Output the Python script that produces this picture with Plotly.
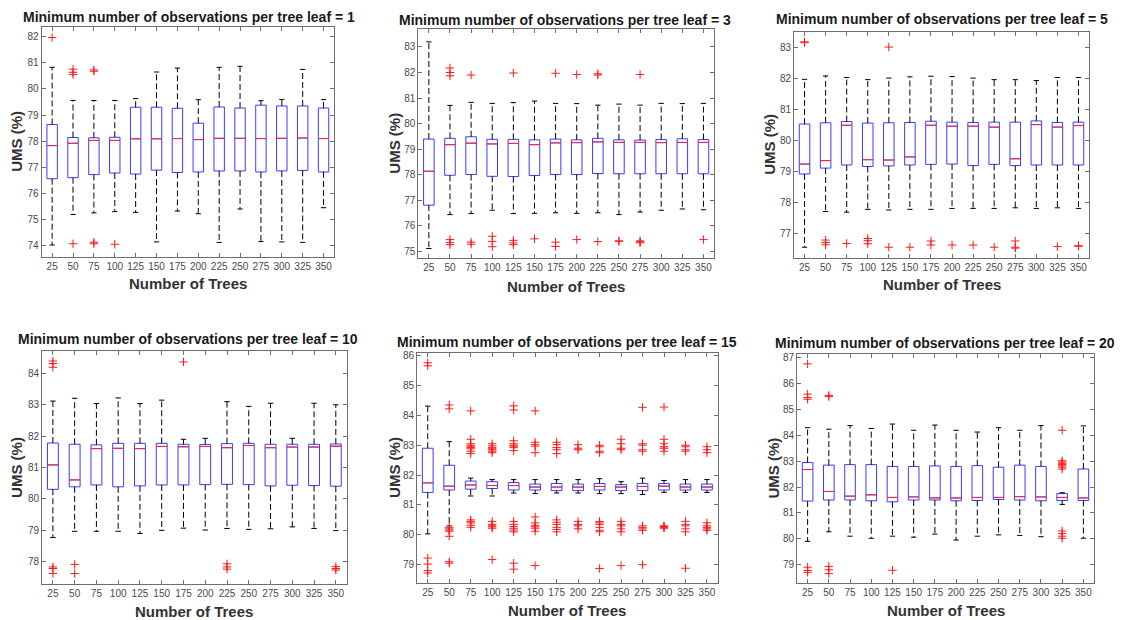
import plotly.graph_objects as go

TREES = [25, 50, 75, 100, 125, 150, 175, 200, 225, 250, 275, 300, 325, 350]
LEAF_SIZES = [1, 3, 5, 10, 15, 20]

# ---- leaf = 1 ----
L1_LO = [74.02, 75.19, 75.25, 75.30, 75.27, 74.14, 75.32, 75.22, 74.12, 75.40, 74.15, 74.14, 74.12, 75.45]
L1_Q1 = [76.56, 76.60, 76.72, 76.78, 76.74, 76.89, 76.80, 76.82, 76.86, 76.86, 76.82, 76.86, 76.88, 76.82]
L1_MED = [77.83, 77.92, 78.03, 78.03, 78.09, 78.09, 78.10, 78.06, 78.11, 78.11, 78.10, 78.11, 78.12, 78.10]
L1_Q3 = [78.64, 78.14, 78.13, 78.15, 79.30, 79.30, 79.26, 78.69, 79.31, 79.27, 79.38, 79.35, 79.35, 79.27]
L1_HI = [80.83, 79.56, 79.56, 79.56, 79.63, 80.65, 80.80, 79.59, 80.83, 80.87, 79.55, 79.60, 80.75, 79.59]
L1_OUT = [[81.97], [80.76, 80.64, 80.55, 74.07], [80.73, 80.68, 74.13, 74.07], [74.05],
          [], [], [], [], [], [], [], [], [], []]

# ---- leaf = 3 ----
L3_LO = [75.10, 76.43, 76.47, 76.60, 76.47, 76.48, 76.50, 76.48, 76.50, 76.43, 76.53, 76.60, 76.65, 76.62]
L3_Q1 = [76.80, 77.97, 78.00, 77.93, 77.92, 77.96, 78.00, 78.00, 78.04, 78.03, 78.03, 78.03, 78.03, 78.03]
L3_MED = [78.13, 79.17, 79.23, 79.20, 79.22, 79.17, 79.24, 79.25, 79.28, 79.26, 79.26, 79.25, 79.26, 79.26]
L3_Q3 = [79.39, 79.42, 79.48, 79.38, 79.38, 79.36, 79.39, 79.36, 79.42, 79.36, 79.35, 79.37, 79.40, 79.37]
L3_HI = [83.20, 80.71, 80.83, 80.79, 80.82, 80.88, 80.79, 80.78, 80.72, 80.76, 80.72, 80.79, 80.78, 80.79]
L3_OUT = [[], [82.18, 82.00, 81.87, 75.45, 75.33, 75.25], [81.90, 75.35, 75.27], [75.58, 75.38, 75.17],
          [81.98, 75.42, 75.32, 75.25], [75.48], [81.97, 75.35, 75.18], [81.92, 75.45],
          [81.95, 81.90, 75.37], [75.40, 75.38], [81.92, 75.40, 75.36, 75.33], [], [], [75.45]]

# ---- leaf = 5 ----
L5_LO = [76.55, 77.70, 77.68, 77.77, 77.75, 77.77, 77.77, 77.80, 77.80, 77.80, 77.82, 77.80, 77.82, 77.80]
L5_Q1 = [78.91, 79.10, 79.20, 79.15, 79.17, 79.20, 79.22, 79.23, 79.18, 79.22, 79.18, 79.20, 79.20, 79.20]
L5_MED = [79.23, 79.34, 80.48, 79.37, 79.36, 79.46, 80.48, 80.45, 80.45, 80.42, 79.40, 80.50, 80.42, 80.47]
L5_Q3 = [80.52, 80.56, 80.60, 80.55, 80.56, 80.57, 80.61, 80.58, 80.57, 80.58, 80.58, 80.62, 80.57, 80.58]
L5_HI = [81.96, 82.07, 82.02, 81.95, 82.00, 82.04, 82.06, 82.05, 82.00, 81.95, 81.95, 81.92, 82.02, 82.02]
L5_OUT = [[83.17, 83.14], [76.78, 76.70, 76.63], [76.67], [76.83, 76.76, 76.66], [83.00, 76.55],
          [76.55], [76.75, 76.62], [76.62], [76.62], [76.55], [76.75, 76.55, 76.52], [], [76.57],
          [76.58, 76.60]]

# ---- leaf = 10 ----
L10_LO = [78.76, 78.96, 78.96, 78.96, 78.89, 78.99, 79.06, 79.00, 79.05, 79.02, 79.04, 79.10, 79.05, 78.98]
L10_Q1 = [80.30, 80.38, 80.44, 80.38, 80.41, 80.44, 80.44, 80.45, 80.46, 80.45, 80.41, 80.43, 80.42, 80.40]
L10_MED = [81.08, 80.60, 81.60, 81.61, 81.60, 81.67, 81.66, 81.67, 81.63, 81.70, 81.63, 81.65, 81.65, 81.68]
L10_Q3 = [81.78, 81.74, 81.72, 81.77, 81.77, 81.77, 81.74, 81.73, 81.76, 81.77, 81.74, 81.74, 81.74, 81.75]
L10_HI = [83.12, 83.21, 83.04, 83.22, 83.04, 83.15, 81.90, 81.93, 83.10, 82.95, 83.05, 81.93, 83.05, 83.00]
L10_OUT = [[84.40, 84.32, 84.20, 77.82, 77.77, 77.61], [77.90, 77.61], [], [], [], [], [84.37], [],
           [77.92, 77.82, 77.75], [], [], [], [], [77.83, 77.77, 77.72]]

# ---- leaf = 15 ----
L15_LO = [80.03, 80.30, 81.30, 81.30, 81.40, 81.38, 81.40, 81.40, 81.38, 81.38, 81.35, 81.42, 81.42, 81.42]
L15_Q1 = [81.42, 81.50, 81.53, 81.55, 81.50, 81.50, 81.48, 81.48, 81.50, 81.48, 81.48, 81.50, 81.50, 81.50]
L15_MED = [81.74, 81.63, 81.67, 81.65, 81.65, 81.60, 81.60, 81.60, 81.62, 81.60, 81.62, 81.63, 81.60, 81.60]
L15_Q3 = [82.90, 82.33, 81.80, 81.78, 81.75, 81.70, 81.72, 81.70, 81.72, 81.68, 81.72, 81.72, 81.70, 81.70]
L15_HI = [84.31, 83.12, 81.90, 81.85, 81.85, 81.85, 81.85, 81.85, 81.88, 81.78, 81.90, 81.82, 81.85, 81.85]
L15_OUT = [
    [85.76, 85.66, 79.22, 79.02, 78.80, 78.72],
    [84.35, 84.22, 80.25, 80.20, 80.16, 80.12, 79.95, 79.10, 79.05],
    [84.15, 83.20, 83.05, 83.00, 82.95, 82.92, 82.88, 82.80, 82.72, 80.50, 80.45, 80.40, 80.32, 80.25],
    [83.05, 82.98, 82.92, 82.88, 82.85, 82.80, 82.75, 80.45, 80.35, 80.30, 80.27, 80.22, 79.17],
    [84.32, 84.18, 83.15, 83.05, 83.00, 82.97, 82.92, 82.82, 80.45, 80.35, 80.28, 80.22, 80.16, 80.10, 79.05, 78.85],
    [84.15, 83.10, 83.02, 82.97, 82.75, 80.60, 80.40, 80.32, 80.27, 80.22, 80.12, 78.97],
    [83.10, 83.02, 82.92, 82.85, 82.72, 80.50, 80.42, 80.35, 80.25, 80.18, 80.10],
    [83.02, 82.90, 82.85, 80.45, 80.35, 80.30, 80.20],
    [83.00, 82.95, 82.80, 82.75, 80.45, 80.40, 80.35, 80.25, 80.15, 80.10, 78.87],
    [83.20, 83.05, 82.90, 82.85, 80.45, 80.35, 80.30, 80.20, 80.10, 78.97],
    [84.27, 83.05, 83.00, 82.85, 82.80, 80.30, 80.25, 80.20, 80.15, 79.00],
    [84.28, 83.20, 83.05, 82.95, 82.90, 82.80, 80.30, 80.28, 80.25, 80.22],
    [83.00, 82.95, 82.85, 82.80, 80.45, 80.35, 80.30, 80.20, 80.10, 78.88],
    [82.95, 82.85, 82.75, 80.40, 80.30, 80.25, 80.20, 80.15],
]

# ---- leaf = 20 ----
L20_LO = [79.90, 80.27, 80.10, 80.02, 80.10, 80.06, 80.18, 79.95, 80.10, 80.15, 80.13, 80.08, 81.33, 80.02]
L20_Q1 = [81.46, 81.50, 81.50, 81.47, 81.43, 81.50, 81.50, 81.47, 81.48, 81.52, 81.50, 81.47, 81.48, 81.48]
L20_MED = [82.68, 81.83, 81.65, 81.70, 81.60, 81.62, 81.58, 81.58, 81.60, 81.60, 81.63, 81.62, 81.60, 81.58]
L20_Q3 = [82.95, 82.85, 82.87, 82.87, 82.80, 82.80, 82.82, 82.80, 82.83, 82.77, 82.85, 82.80, 81.75, 82.70]
L20_HI = [84.30, 84.24, 84.38, 84.27, 84.44, 84.20, 84.40, 84.20, 84.13, 84.30, 84.20, 84.38, 81.78, 84.37]
L20_OUT = [[86.77, 85.60, 85.47, 85.40, 78.90, 78.77, 78.70], [85.55, 85.50, 78.93, 78.80, 78.65],
           [], [], [78.78], [], [], [], [], [], [], [],
           [84.20, 83.02, 82.97, 82.92, 82.87, 82.82, 82.77, 82.70, 80.30, 80.20, 80.10, 80.02], []]

SERIES = [
    (L1_LO, L1_Q1, L1_MED, L1_Q3, L1_HI, L1_OUT),
    (L3_LO, L3_Q1, L3_MED, L3_Q3, L3_HI, L3_OUT),
    (L5_LO, L5_Q1, L5_MED, L5_Q3, L5_HI, L5_OUT),
    (L10_LO, L10_Q1, L10_MED, L10_Q3, L10_HI, L10_OUT),
    (L15_LO, L15_Q1, L15_MED, L15_Q3, L15_HI, L15_OUT),
    (L20_LO, L20_Q1, L20_MED, L20_Q3, L20_HI, L20_OUT),
]

# ---------------- layout (pixels) ----------------
W, H = 1126, 620
# plot frames: left, right, top, bottom (px) and y ranges
FRAMES = [
    (41.7, 334.0, 24.0, 255.0, (73.57, 82.38)),
    (418.3, 714.0, 26.0, 256.7, (74.71, 83.71)),
    (794.0, 1089.0, 29.0, 256.0, (76.21, 83.49)),
    (42.0, 346.7, 350.0, 584.3, (77.26, 84.71)),
    (417.0, 717.7, 351.7, 582.7, (78.39, 86.09)),
    (797.0, 1094.0, 353.0, 582.5, (78.30, 87.14)),
]
TITLE_POS = [(189, 14, "center"), (565, 17, "center"), (942, 16, "center"),
             (16, 338, "left"), (567, 341, "center"), (945, 342, "center")]
XT_Y = [282, 285, 283, 611, 610, 610]
YT_X = [17, 395, 770, 17, 395, 773]

BOX_W = 12.5
FONT = "Liberation Sans, Arial, Helvetica, sans-serif"
AXCOL = "#6e6e6e"

fig = go.Figure()


def px_x(p):
    return p / W


def px_y(p):
    return 1 - p / H


for k, (lo, q1, med, q3, hi, outs) in enumerate(SERIES):
    n = k + 1
    xa = "x" if n == 1 else f"x{n}"
    ya = "y" if n == 1 else f"y{n}"

    fig.add_trace(go.Box(
        x=TREES, q1=q1, median=med, q3=q3, lowerfence=q1, upperfence=q3,
        width=BOX_W, whiskerwidth=0, boxpoints=False,
        line=dict(color="#3a3aff", width=1), fillcolor="rgba(255,255,255,0)",
        xaxis=xa, yaxis=ya, showlegend=False, hoverinfo="skip"))

    wx, wy, cx, cy, mx, my = [], [], [], [], [], []
    for t, a, b, c, d, e in zip(TREES, lo, q1, med, q3, hi):
        wx += [t, t, None, t, t, None]
        wy += [d, e, None, b, a, None]
        cx += [t - BOX_W / 4, t + BOX_W / 4, None, t - BOX_W / 4, t + BOX_W / 4, None]
        cy += [e, e, None, a, a, None]
        mx += [t - BOX_W / 2, t + BOX_W / 2, None]
        my += [c, c, None]
    fig.add_trace(go.Scatter(x=wx, y=wy, mode="lines", xaxis=xa, yaxis=ya,
                             line=dict(color="black", width=1, dash="6px,3px"),
                             showlegend=False, hoverinfo="skip"))
    fig.add_trace(go.Scatter(x=cx, y=cy, mode="lines", xaxis=xa, yaxis=ya,
                             line=dict(color="black", width=1),
                             showlegend=False, hoverinfo="skip"))
    fig.add_trace(go.Scatter(x=mx, y=my, mode="lines", xaxis=xa, yaxis=ya,
                             line=dict(color="#ff2a2a", width=1),
                             showlegend=False, hoverinfo="skip"))
    ox, oy = [], []
    for t, vals in zip(TREES, outs):
        for v in vals:
            ox.append(t)
            oy.append(v)
    fig.add_trace(go.Scatter(x=ox, y=oy, mode="markers", xaxis=xa, yaxis=ya,
                             marker=dict(symbol="cross-thin", size=6,
                                         line=dict(color="#ff1a1a", width=1)),
                             showlegend=False, hoverinfo="skip"))

    left, right, top, bottom, yr = FRAMES[k]
    axis_common = dict(showline=True, linecolor=AXCOL, linewidth=1, mirror="ticks",
                       ticks="inside", ticklen=4, tickcolor=AXCOL, showgrid=False,
                       zeroline=False, tickfont=dict(family=FONT, size=10, color="#4a4a4a"))
    fig.layout[f"xaxis{'' if n == 1 else n}"] = dict(
        domain=[px_x(left), px_x(right)], anchor=ya, range=[12.5, 362.5],
        tickvals=TREES, ticktext=[str(t) for t in TREES], **axis_common)
    fig.layout[f"yaxis{'' if n == 1 else n}"] = dict(
        domain=[px_y(bottom), px_y(top)], anchor=xa, range=list(yr), dtick=1,
        **axis_common)

    tx, ty, anc = TITLE_POS[k]
    fig.add_annotation(x=px_x(tx), y=px_y(ty), xref="paper", yref="paper",
                       text=f"<b>Minimum number of observations per tree leaf = {LEAF_SIZES[k]}</b>",
                       showarrow=False, xanchor=anc, yanchor="middle",
                       font=dict(family=FONT, size=14, color="#1a1a1a"))
    fig.add_annotation(x=px_x((left + right) / 2), y=px_y(XT_Y[k]), xref="paper", yref="paper",
                       text="<b>Number of Trees</b>", showarrow=False,
                       xanchor="center", yanchor="middle",
                       font=dict(family=FONT, size=15, color="#333333"))
    fig.add_annotation(x=px_x(YT_X[k]), y=px_y((top + bottom) / 2), xref="paper", yref="paper",
                       text="<b>UMS (%)</b>", showarrow=False, textangle=-90,
                       xanchor="center", yanchor="middle",
                       font=dict(family=FONT, size=15, color="#333333"))

fig.update_layout(width=W, height=H, margin=dict(l=0, r=0, t=0, b=0),
                  paper_bgcolor="white", plot_bgcolor="white")

fig.write_html("out.html")
